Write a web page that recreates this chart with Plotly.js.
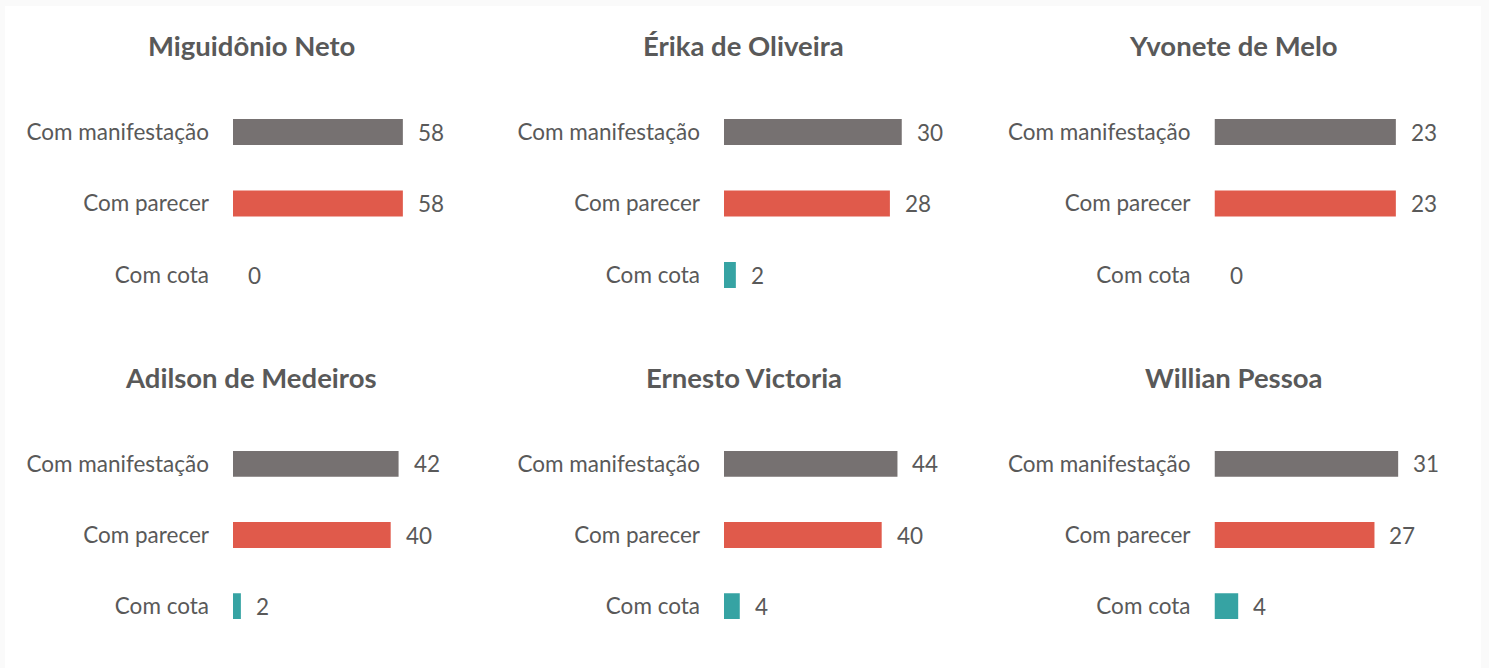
<!DOCTYPE html>
<html>
<head>
<meta charset="utf-8">
<script src="https://cdn.plot.ly/plotly-3.0.1.min.js"></script>
<style>html,body{margin:0;padding:0;background:#fff;}</style>
</head>
<body>
<div id="chart" style="width:1489px;height:668px;"></div>
<script>
// ---- data ----
const names = ["Miguidônio Neto", "Érika de Oliveira", "Yvonete de Melo",
               "Adilson de Medeiros", "Ernesto Victoria", "Willian Pessoa"];
const categories = ["Com manifestação", "Com parecer", "Com cota"];
const comManifestacao = [58, 30, 23, 42, 44, 31];
const comParecer      = [58, 28, 23, 40, 40, 27];
const comCota         = [0, 2, 0, 2, 4, 4];
const barColors = ["#767171", "#E05A4B", "#36A3A3"];

// ---- layout helpers ----
const W = 1489, H = 668;
const colStart = [233, 724, 1214.5];
const plotW = 205;
const rowTop = [96.25, 428.25], rowBot = [310.75, 641.75];
const titleX = [251, 743.5, 1233.5];
const titleY = [45.5, 377.5];
const axisMax = [70, 34.6, 26, 52, 52, 34.6];
const FONT = "Lato, 'Open Sans', sans-serif";
const TXT = "#595959";

const traces = [];
const layout = {
  width: W, height: H,
  margin: {l: 0, r: 0, t: 0, b: 0},
  paper_bgcolor: "#fafafa",
  plot_bgcolor: "rgba(0,0,0,0)",
  showlegend: false,
  bargap: 0.636,
  font: {family: FONT, color: TXT},
  annotations: [],
  shapes: [{type: "rect", xref: "paper", yref: "paper", x0: 5/W, x1: 1481/W, y0: 0, y1: 1 - 6/H,
            fillcolor: "#ffffff", line: {width: 0}, layer: "below"}]
};

for (let i = 0; i < 6; i++) {
  const r = Math.floor(i / 3), c = i % 3;
  const xa = i === 0 ? "x" : "x" + (i + 1);
  const ya = i === 0 ? "y" : "y" + (i + 1);
  const vals = [comManifestacao[i], comParecer[i], comCota[i]];
  traces.push({
    type: "bar", orientation: "h",
    x: vals, y: categories,
    xaxis: xa, yaxis: ya,
    marker: {color: barColors},
    hoverinfo: "x+y"
  });
  const xKey = i === 0 ? "xaxis" : "xaxis" + (i + 1);
  const yKey = i === 0 ? "yaxis" : "yaxis" + (i + 1);
  layout[xKey] = {
    domain: [colStart[c] / W, (colStart[c] + plotW) / W],
    range: [0, axisMax[i]],
    anchor: ya,
    showgrid: false, zeroline: false, showline: false, showticklabels: false, ticks: ""
  };
  layout[yKey] = {
    domain: [1 - rowBot[r] / H, 1 - rowTop[r] / H],
    anchor: xa,
    type: "category",
    autorange: "reversed",
    showgrid: false, zeroline: false, showline: false, ticks: "",
    ticklabelstandoff: 23,
    tickfont: {family: FONT, size: 22.5, color: TXT}
  };
  layout.annotations.push({
    xref: "paper", yref: "paper",
    x: titleX[c] / W, y: 1 - titleY[r] / H,
    xanchor: "center", yanchor: "middle",
    text: "<b>" + names[i] + "</b>",
    showarrow: false,
    font: {family: FONT, size: 27.5, color: TXT}
  });
  vals.forEach((v, k) => {
    layout.annotations.push({
      xref: xa, yref: ya,
      x: v, y: categories[k],
      xanchor: "left", yanchor: "middle",
      xshift: 13,
      text: String(v),
      showarrow: false,
      font: {family: FONT, size: 22.5, color: TXT}
    });
  });
}

Plotly.newPlot("chart", traces, layout, {displayModeBar: false, staticPlot: true});
</script>
</body>
</html>
